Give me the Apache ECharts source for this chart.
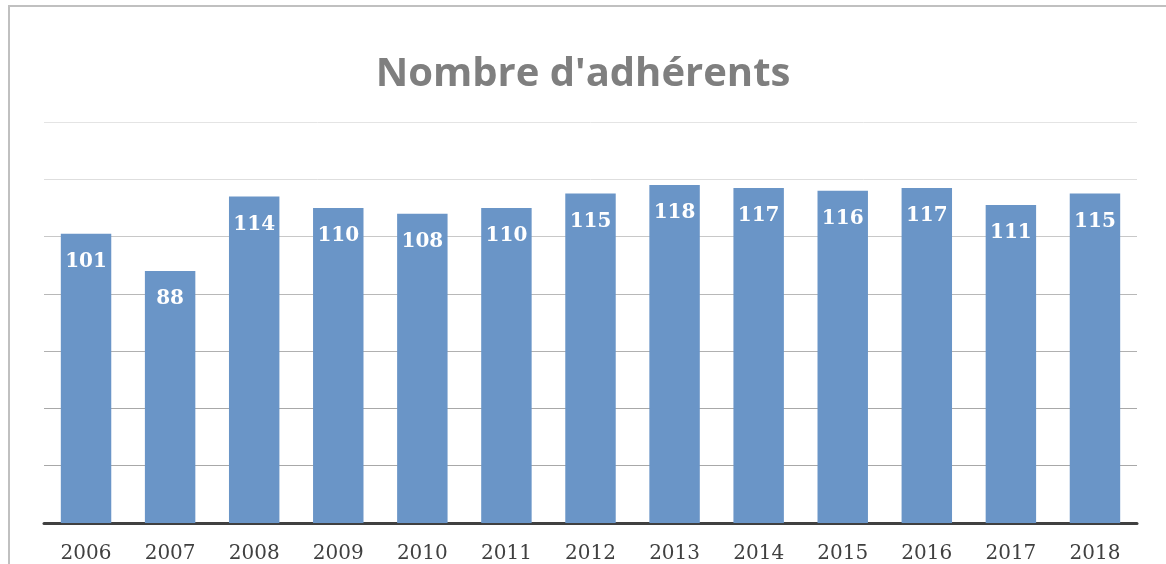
<!DOCTYPE html>
<html>
<head>
<meta charset="utf-8">
<script src="https://cdn.jsdelivr.net/npm/echarts@6/dist/echarts.min.js"></script>
<style>
  html, body { margin: 0; padding: 0; background: #fff; }
  #main { width: 1166px; height: 564px; }
</style>
</head>
<body>
<div id="main"></div>
<script>
// données du graphique
var years = ['2006', '2007', '2008', '2009', '2010', '2011', '2012', '2013', '2014', '2015', '2016', '2017', '2018'];
var adherents = [101, 88, 114, 110, 108, 110, 115, 118, 117, 116, 117, 111, 115];

var chart = echarts.init(document.getElementById('main'));

var option = {
  backgroundColor: '#fff',
  animation: false,
  title: {
    text: "Nombre d'adhérents",
    left: 'center',
    top: 50,
    textStyle: {
      color: '#7f7f7f',
      fontFamily: 'Open Sans',
      fontWeight: 'bold',
      fontSize: 40
    }
  },
  // cadre du graphique (bords gauche et haut)
  graphic: [
    {
      type: 'polyline',
      shape: { points: [[9, 564], [9, 6], [1166, 6]] },
      style: { stroke: '#c0c0c0', lineWidth: 2, fill: null }
    }
  ],
  grid: {
    left: 44,
    right: 29,
    top: 122,
    bottom: 40
  },
  xAxis: {
    type: 'category',
    data: years,
    axisLine: { lineStyle: { color: '#404040', width: 3 } },
    axisTick: { show: false },
    axisLabel: {
      color: '#404040',
      fontFamily: 'DejaVu Serif',
      fontSize: 20,
      margin: 21
    }
  },
  yAxis: {
    type: 'value',
    min: 0,
    max: 140,
    interval: 20,
    axisLabel: { show: false },
    axisLine: { show: false },
    axisTick: { show: false },
    splitLine: {
      lineStyle: {
        color: ['#404040', '#a8a8a8', '#a8a8a8', '#b0b0b0', '#b8b8b8', '#c8c8c8', '#dedede', '#e4e4e4'],
        width: 1
      }
    }
  },
  series: [
    {
      type: 'bar',
      data: adherents,
      barCategoryGap: '40%',
      itemStyle: { color: '#6a95c7' },
      label: {
        show: true,
        position: 'insideTop',
        distance: 18,
        color: '#fff',
        fontFamily: 'DejaVu Serif',
        fontWeight: 'bold',
        fontSize: 20
      }
    }
  ]
};

chart.setOption(option);
</script>
</body>
</html>
